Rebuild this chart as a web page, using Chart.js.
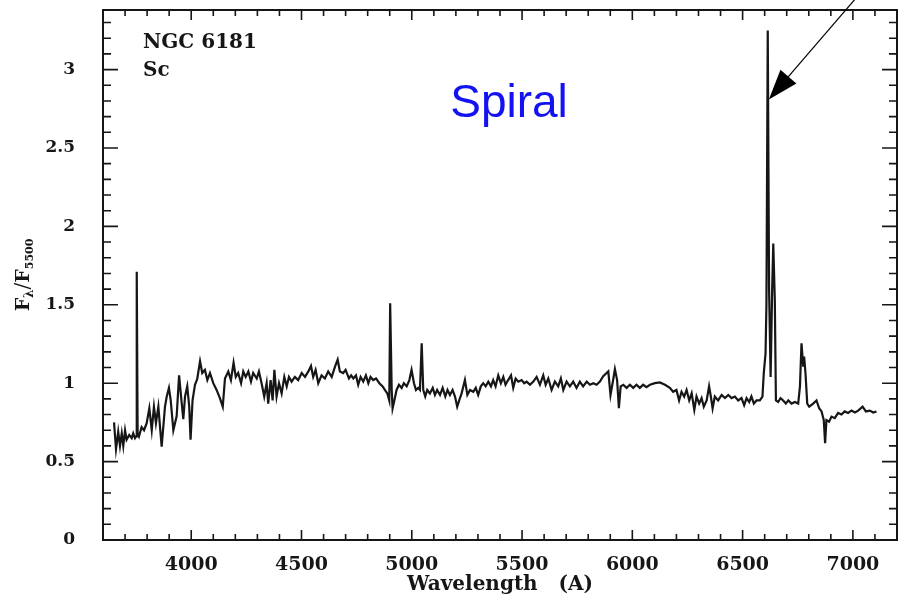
<!DOCTYPE html>
<html>
<head>
<meta charset="utf-8">
<script src="https://cdn.jsdelivr.net/npm/chart.js@4.4.0/dist/chart.umd.min.js"></script>
<style>
  html, body { margin: 0; padding: 0; background: #fff; }
  #wrap { width: 898px; height: 597px; }
</style>
</head>
<body>
<div id="wrap"><canvas id="specCanvas" width="898" height="597"></canvas></div>
<script>
// NGC 6181 (Sc) spectrum
const wavelength = [
  3650, 3659, 3669, 3677, 3685, 3692, 3700, 3707, 3719, 3730, 3737, 3745, 3750, 3753, 3757, 3763,
  3775, 3786, 3798, 3810, 3821, 3831, 3840, 3851, 3866, 3881, 3889, 3899, 3907, 3919, 3934, 3945,
  3954, 3964, 3972, 3982, 3991, 3997, 4006, 4017, 4027, 4040, 4050, 4062, 4073, 4085, 4100, 4115,
  4130, 4143, 4153, 4168, 4180, 4192, 4202, 4213, 4226, 4236, 4247, 4259, 4271, 4281, 4297, 4307,
  4319, 4331, 4342, 4349, 4360, 4369, 4377, 4387, 4398, 4410, 4422, 4433, 4443, 4455, 4470, 4485,
  4501, 4516, 4531, 4543, 4553, 4564, 4576, 4591, 4606, 4621, 4637, 4652, 4664, 4674, 4689, 4700,
  4715, 4725, 4735, 4747, 4757, 4768, 4780, 4792, 4803, 4813, 4825, 4838, 4853, 4868, 4878, 4889,
  4898, 4902, 4909, 4913, 4921, 4931, 4942, 4954, 4964, 4977, 4989, 4999, 5010, 5019, 5029, 5037,
  5045, 5052, 5061, 5070, 5082, 5095, 5105, 5115, 5128, 5140, 5152, 5162, 5173, 5185, 5196, 5206,
  5215, 5226, 5241, 5252, 5264, 5279, 5290, 5301, 5313, 5324, 5335, 5347, 5359, 5369, 5380, 5392,
  5404, 5415, 5425, 5437, 5450, 5460, 5471, 5483, 5498, 5510, 5521, 5536, 5551, 5566, 5581, 5596,
  5607, 5619, 5634, 5649, 5664, 5676, 5687, 5702, 5717, 5732, 5747, 5762, 5777, 5793, 5808, 5823,
  5838, 5853, 5868, 5891, 5901, 5913, 5921, 5931, 5939, 5947, 5959, 5974, 5989, 6004, 6019, 6034,
  6049, 6064, 6080, 6102, 6125, 6148, 6170, 6185, 6200, 6212, 6223, 6235, 6246, 6258, 6269, 6281,
  6291, 6303, 6314, 6324, 6337, 6348, 6356, 6364, 6374, 6389, 6405, 6420, 6435, 6450, 6465, 6480,
  6495, 6507, 6518, 6530, 6540, 6551, 6563, 6578, 6590, 6596, 6604, 6608, 6614, 6620, 6627, 6634,
  6639, 6646, 6651, 6661, 6672, 6684, 6696, 6707, 6722, 6737, 6752, 6760, 6767, 6775, 6779, 6785,
  6793, 6802, 6820, 6835, 6847, 6858, 6868, 6874, 6880, 6892, 6903, 6918, 6933, 6948, 6963, 6978,
  6994, 7009, 7024, 7044, 7059, 7077, 7092, 7107
];
const flux = [
  0.75, 0.58, 0.69, 0.60, 0.68, 0.60, 0.70, 0.64, 0.67, 0.65, 0.68, 0.65, 0.66, 1.71, 0.68, 0.66,
  0.72, 0.70, 0.745, 0.84, 0.70, 0.85, 0.745, 0.85, 0.595, 0.85, 0.915, 0.97, 0.89, 0.70, 0.79, 1.05,
  0.915, 0.77, 0.915, 0.98, 0.85, 0.64, 0.89, 0.99, 1.025, 1.14, 1.065, 1.085, 1.02, 1.065, 1.0, 0.957,
  0.905, 0.85, 1.03, 1.075, 1.02, 1.13, 1.04, 1.065, 1.0, 1.075, 1.04, 1.075, 1.01, 1.065, 1.03, 1.075,
  1.0, 0.915, 1.0, 0.87, 1.02, 0.89, 1.085, 0.915, 1.0, 0.935, 1.04, 0.98, 1.04, 1.01, 1.04, 1.02,
  1.065, 1.04, 1.075, 1.11, 1.04, 1.085, 1.0, 1.05, 1.03, 1.075, 1.04, 1.105, 1.15, 1.075, 1.065, 1.085,
  1.03, 1.05, 1.03, 1.05, 0.99, 1.04, 1.01, 1.05, 1.0, 1.04, 1.02, 1.03, 1.0, 0.98, 0.957, 0.935,
  0.89, 1.51, 0.957, 0.84, 0.89, 0.957, 0.99, 0.97, 1.0, 0.98, 1.02, 1.085, 1.0, 0.957, 0.97, 0.957,
  1.255, 0.957, 0.915, 0.957, 0.935, 0.97, 0.925, 0.957, 0.925, 0.97, 0.915, 0.957, 0.925, 0.957, 0.915, 0.85,
  0.89, 0.935, 1.02, 0.925, 0.957, 0.945, 0.97, 0.925, 0.98, 1.0, 0.98, 1.01, 0.98, 1.02, 0.98, 1.05,
  1.0, 1.04, 0.99, 1.02, 1.05, 0.97, 1.03, 1.01, 1.02, 1.0, 1.01, 0.99, 1.01, 1.04, 0.99, 1.05,
  0.99, 1.03, 0.957, 1.01, 0.98, 1.03, 0.957, 1.01, 0.98, 1.01, 0.97, 1.01, 0.98, 1.01, 0.99, 1.0,
  0.99, 1.01, 1.045, 1.075, 0.925, 1.02, 1.09, 1.02, 0.84, 0.98, 0.99, 0.97, 0.99, 0.97, 0.99, 0.97,
  0.99, 0.975, 0.99, 1.0, 1.005, 0.99, 0.97, 0.945, 0.957, 0.89, 0.945, 0.915, 0.957, 0.89, 0.935, 0.83,
  0.915, 0.87, 0.905, 0.85, 0.89, 0.98, 0.915, 0.84, 0.915, 0.89, 0.925, 0.905, 0.925, 0.905, 0.915, 0.89,
  0.905, 0.86, 0.905, 0.88, 0.915, 0.87, 0.89, 0.89, 0.915, 1.065, 1.19, 1.5, 3.25, 1.6, 1.04, 1.6,
  1.89, 1.53, 0.89, 0.88, 0.905, 0.89, 0.87, 0.89, 0.87, 0.88, 0.87, 0.98, 1.255, 1.105, 1.17, 1.065,
  0.87, 0.85, 0.87, 0.89, 0.84, 0.82, 0.765, 0.617, 0.765, 0.755, 0.787, 0.777, 0.81, 0.80, 0.82, 0.81,
  0.825, 0.813, 0.825, 0.85, 0.82, 0.825, 0.813, 0.82
];
const xTicks = [4000, 4500, 5000, 5500, 6000, 6500, 7000];
const yTicks = [0, 0.5, 1, 1.5, 2, 2.5, 3];
const galaxyLabel = ['NGC 6181', 'Sc'];
const typeLabel = 'Spiral';
const arrowTip = [6619, 2.81]; // points at H-alpha

const ink = '#161616';

// inward ticks on all four sides + box frame
const frameTicks = {
  id: 'frameTicks',
  afterDatasetsDraw(chart) {
    const { ctx, chartArea: a, scales: { x, y } } = chart;
    ctx.save();
    ctx.strokeStyle = ink;
    ctx.lineWidth = 1.6;
    ctx.beginPath();
    for (let w = 3700; w < 7200; w += 100) {
      const px = x.getPixelForValue(w);
      const len = w % 500 === 0 ? 10 : 6;
      ctx.moveTo(px, a.bottom); ctx.lineTo(px, a.bottom - len);
      ctx.moveTo(px, a.top); ctx.lineTo(px, a.top + len);
    }
    for (let i = 1; i < 34; i++) {
      const py = y.getPixelForValue(i / 10);
      const len = i % 5 === 0 ? 15 : 8;
      ctx.moveTo(a.left, py); ctx.lineTo(a.left + len, py);
      ctx.moveTo(a.right, py); ctx.lineTo(a.right - len, py);
    }
    ctx.stroke();
    ctx.lineWidth = 2;
    ctx.strokeRect(a.left, a.top, a.right - a.left, a.bottom - a.top);
    ctx.restore();
  }
};

// labels, y title with subscripts, arrow
const annotations = {
  id: 'annotations',
  afterDraw(chart) {
    const { ctx, chartArea: a, scales: { x, y } } = chart;
    ctx.save();
    ctx.fillStyle = ink;
    ctx.textBaseline = 'middle';
    ctx.textAlign = 'left';
    ctx.font = 'bold 20px "DejaVu Serif"';
    ctx.fillText(galaxyLabel[0], a.left + 40, a.top + 33);
    ctx.fillText(galaxyLabel[1], a.left + 40, a.top + 61);

    ctx.fillStyle = '#1212f2';
    ctx.textAlign = 'center';
    ctx.textBaseline = 'alphabetic';
    ctx.font = '46px "Liberation Sans"';
    ctx.fillText(typeLabel, 509, 117);

    // y axis title F_lambda / F_5500
    ctx.fillStyle = ink;
    ctx.save();
    ctx.translate(29, 275);
    ctx.rotate(-Math.PI / 2);
    const parts = [
      { t: 'F', f: 'bold 19px "DejaVu Serif"', dy: 0 },
      { t: 'λ', f: 'bold 12px "DejaVu Serif"', dy: 4 },
      { t: '/', f: '20px "DejaVu Serif"', dy: 0 },
      { t: 'F', f: 'bold 19px "DejaVu Serif"', dy: 0 },
      { t: '5500', f: 'bold 11px "DejaVu Serif"', dy: 4 }
    ];
    let total = 0;
    parts.forEach(p => { ctx.font = p.f; p.w = ctx.measureText(p.t).width; total += p.w; });
    let cx = -total / 2;
    ctx.textAlign = 'left';
    parts.forEach(p => { ctx.font = p.f; ctx.fillText(p.t, cx, p.dy); cx += p.w; });
    ctx.restore();

    // arrow pointing at the H-alpha line
    const tx = x.getPixelForValue(arrowTip[0]);
    const ty = y.getPixelForValue(arrowTip[1]);
    const ux = 0.652, uy = -0.758;
    ctx.strokeStyle = '#000';
    ctx.lineWidth = 1.2;
    ctx.beginPath();
    ctx.moveTo(tx + ux * 25, ty + uy * 25);
    ctx.lineTo(tx + ux * 200, ty + uy * 200);
    ctx.stroke();
    const hl = 30, hw = 10.5;
    const bx = tx + ux * hl, by = ty + uy * hl;
    ctx.fillStyle = '#000';
    ctx.beginPath();
    ctx.moveTo(tx, ty);
    ctx.lineTo(bx - uy * hw, by + ux * hw);
    ctx.lineTo(bx + uy * hw, by - ux * hw);
    ctx.closePath();
    ctx.fill();
    ctx.restore();
  }
};

const plain = v => String(v);

const ctx = document.getElementById('specCanvas').getContext('2d');
new Chart(ctx, {
  type: 'line',
  data: {
    datasets: [{
      data: wavelength.map((w, i) => ({ x: w, y: flux[i] })),
      borderColor: ink,
      borderWidth: 2.2,
      pointRadius: 0,
      tension: 0,
      fill: false
    }]
  },
  options: {
    responsive: false,
    animation: false,
    devicePixelRatio: 1,
    layout: { padding: { top: 10, right: 1, left: 0, bottom: 0 } },
    plugins: { legend: { display: false }, tooltip: { enabled: false } },
    scales: {
      x: {
        type: 'linear',
        min: 3600,
        max: 7200,
        grid: { display: false, drawTicks: false },
        border: { display: false },
        afterBuildTicks: s => { s.ticks = xTicks.map(v => ({ value: v })); },
        afterFit: s => { s.height = 57; s.paddingLeft = 0; s.paddingRight = 0; },
        ticks: {
          color: ink,
          padding: 14,
          maxRotation: 0,
          callback: plain,
          font: { family: 'DejaVu Serif', size: 19, weight: 'bold' }
        },
        title: {
          display: true,
          text: 'Wavelength   (A)',
          color: ink,
          padding: 0,
          font: { family: 'DejaVu Serif', size: 20, weight: 'bold' }
        }
      },
      y: {
        min: 0,
        max: 3.38,
        grid: { display: false, drawTicks: false },
        border: { display: false },
        afterBuildTicks: s => { s.ticks = yTicks.map(v => ({ value: v })); },
        afterFit: s => { s.width = 103; s.paddingTop = 0; s.paddingBottom = 0; },
        ticks: {
          color: ink,
          padding: 28,
          callback: plain,
          font: { family: 'DejaVu Serif', size: 17, weight: 'bold' }
        }
      }
    }
  },
  plugins: [frameTicks, annotations]
});
</script>
</body>
</html>
